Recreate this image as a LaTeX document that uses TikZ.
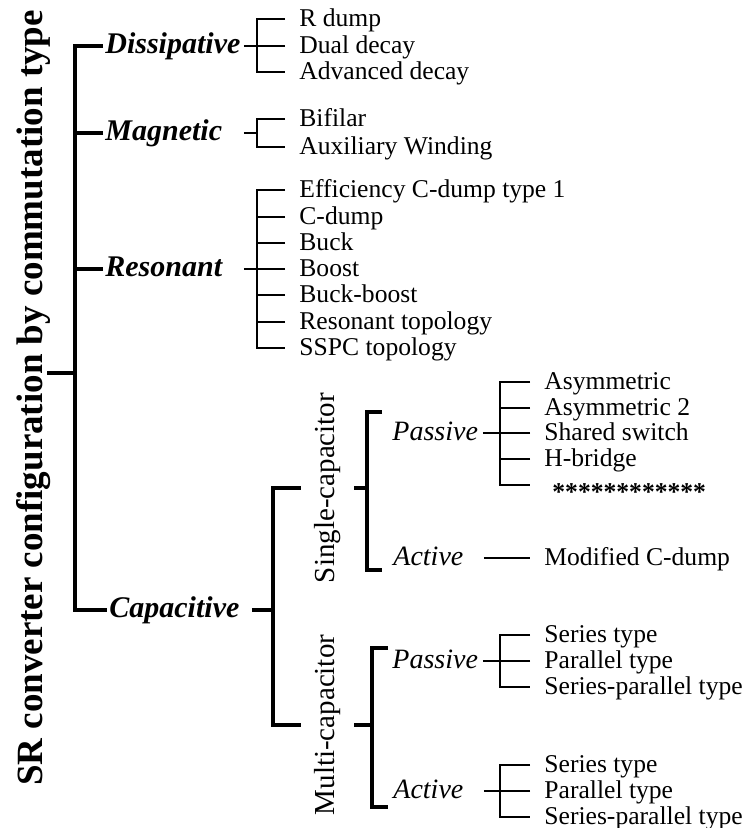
\documentclass[tikz,border=0pt]{standalone}
\usepackage{fontspec}
\setmainfont{Liberation Serif}
\usepackage{tikz}

\begin{document}
\begin{tikzpicture}[
    x=0.5pt, y=-0.5pt,
    title/.style={
        rotate=90,
        anchor=base,
        inner sep=0pt,
        font=\fontsize{18.5}{20}\selectfont\bfseries
    },
    cat/.style={
        anchor=west,
        inner xsep=1pt,
        inner ysep=0pt,
        text width=68pt,
        align=left,
        text height=10.4pt,
        text depth=3pt,
        font=\fontsize{15}{17}\selectfont\bfseries\itshape
    },
    sub/.style={
        rotate=90,
        inner xsep=0pt,
        inner ysep=6.5pt,
        text height=10.1pt,
        text depth=3.2pt,
        font=\fontsize{14.5}{16}\selectfont
    },
    kind/.style={
        anchor=west,
        inner xsep=1pt,
        inner ysep=0pt,
        text width=44pt,
        align=left,
        text height=9.8pt,
        text depth=2.8pt,
        font=\fontsize{14}{16}\selectfont\itshape
    },
    leaf/.style={
        anchor=west,
        inner xsep=7pt,
        inner ysep=0pt,
        text height=9.2pt,
        text depth=1.3pt,
        font=\fontsize{12.8}{14}\selectfont
    },
    thickline/.style={line width=2.2pt},
    thinline/.style={line width=0.7pt}
]
\useasboundingbox (0,0) rectangle (743,828);

% ---------------- Raiz ----------------
\node[title] (ttl) at (42,398) {SR converter configuration by commutation type};
\coordinate (root) at (47,373);
\coordinate (rootJ) at (75,373);

\node[cat] (dis) at (103,46) {Dissipative};
\node[cat] (mag) at (103,133) {Magnetic};
\node[cat] (res) at (103,269) {Resonant};
\node[cat, text width=70pt] (cap) at (107,610) {Capacitive};

\draw[thickline] (root) -- (rootJ);
\draw[thickline] (dis.west) -| (rootJ) |- (cap.west);
\draw[thickline] (mag.west) -- (rootJ |- mag.west);
\draw[thickline] (res.west) -- (rootJ |- res.west);

% ---------------- Dissipative ----------------
\node[leaf] (rdump) at (285,19) {R dump};
\node[leaf] (dual) at (285,46) {Dual decay};
\node[leaf] (advd) at (285,72) {Advanced decay};
\coordinate (disJ) at (257,46);

\draw[thinline] (dis.east) -- (disJ);
\draw[thinline] (rdump.west) -| (disJ) |- (advd.west);
\draw[thinline] (dual.west) -- (disJ);

% ---------------- Magnetic ----------------
\node[leaf] (bif) at (285,119) {Bifilar};
\node[leaf] (aux) at (285,147) {Auxiliary Winding};
\coordinate (magJ) at (257,133);

\draw[thinline] (mag.east) -- (magJ);
\draw[thinline] (bif.west) -| (magJ) |- (aux.west);

% ---------------- Resonant ----------------
\node[leaf] (eff) at (285,190) {Efficiency C-dump type 1};
\node[leaf] (cdump) at (285,217) {C-dump};
\node[leaf] (buck) at (285,243) {Buck};
\node[leaf] (boost) at (285,269) {Boost};
\node[leaf] (buckb) at (285,295) {Buck-boost};
\node[leaf] (restop) at (285,322) {Resonant topology};
\node[leaf] (sspc) at (285,348) {SSPC topology};
\coordinate (resJ) at (257,269);

\draw[thinline] (res.east) -- (resJ);
\draw[thinline] (eff.west) -| (resJ) |- (sspc.west);
\draw[thinline] (cdump.west) -- (resJ |- cdump.west);
\draw[thinline] (buck.west) -- (resJ |- buck.west);
\draw[thinline] (boost.west) -- (resJ);
\draw[thinline] (buckb.west) -- (resJ |- buckb.west);
\draw[thinline] (restop.west) -- (resJ |- restop.west);

% ---------------- Capacitive ----------------
\node[sub] (single) at (327.5,488) {Single-capacitor};
\node[sub] (multi) at (327.5,725) {Multi-capacitor};
\coordinate (capJ) at (273,610);

\draw[thickline] (cap.east) -- (capJ);
\draw[thickline] (single.north) -| (capJ) |- (multi.north);

% single capacitor
\node[kind] (pas1) at (390,433) {Passive};
\node[kind] (act1) at (391,558) {Active};
\coordinate (sJ) at (367,488);
\coordinate (sTop) at (382,412);
\coordinate (sBot) at (382,570);

\draw[thickline] (single.south) -- (sJ);
\draw[thickline] (sTop) -| (sJ) |- (sBot);

\node[leaf] (asym) at (530,382) {Asymmetric};
\node[leaf] (asym2) at (530,408) {Asymmetric 2};
\node[leaf] (shsw) at (530,433) {Shared switch};
\node[leaf] (hbr) at (530,459) {H-bridge};
\node[leaf] (stars) at (530,485) {\hspace*{4pt}\raisebox{-4pt}{\bfseries ************}};
\coordinate (pas1J) at (500,433);

\draw[thinline] (pas1.east) -- (pas1J);
\draw[thinline] (asym.west) -| (pas1J) |- (stars.west);
\draw[thinline] (asym2.west) -- (pas1J |- asym2.west);
\draw[thinline] (shsw.west) -- (pas1J);
\draw[thinline] (hbr.west) -- (pas1J |- hbr.west);

\node[leaf] (mcd) at (530,558) {Modified C-dump};
\draw[thinline] (act1.east) -- (mcd.west);

% multi capacitor
\node[kind] (pas2) at (390,661) {Passive};
\node[kind] (act2) at (391,791) {Active};
\coordinate (mJ) at (372,725);
\coordinate (mTop) at (388,648);
\coordinate (mBot) at (388,807);

\draw[thickline] (multi.south) -- (mJ);
\draw[thickline] (mTop) -| (mJ) |- (mBot);

\node[leaf] (ser1) at (530,635) {Series type};
\node[leaf] (par1) at (530,661) {Parallel type};
\node[leaf] (serpar1) at (530,687) {Series-parallel type};
\coordinate (pas2J) at (500,661);

\draw[thinline] (pas2.east) -- (pas2J);
\draw[thinline] (ser1.west) -| (pas2J) |- (serpar1.west);
\draw[thinline] (par1.west) -- (pas2J);

\node[leaf] (ser2) at (530,765) {Series type};
\node[leaf] (par2) at (530,791) {Parallel type};
\node[leaf] (serpar2) at (530,817) {Series-parallel type};
\coordinate (act2J) at (500,791);

\draw[thinline] (act2.east) -- (act2J);
\draw[thinline] (ser2.west) -| (act2J) |- (serpar2.west);
\draw[thinline] (par2.west) -- (act2J);

\end{tikzpicture}
\end{document}
